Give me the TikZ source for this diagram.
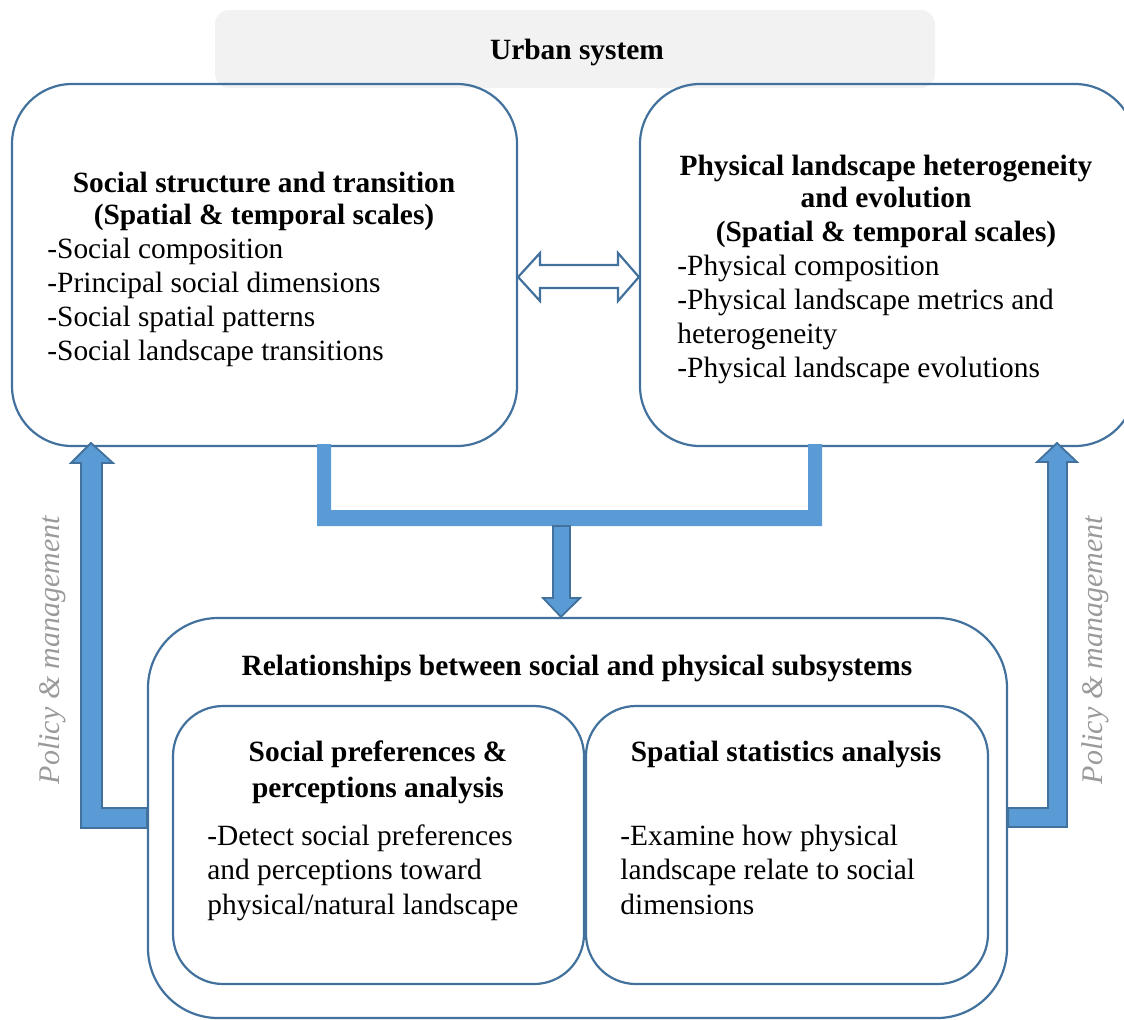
\documentclass[tikz,border=0pt]{standalone}
\usepackage{fontspec}
\setmainfont{Liberation Serif}
\begin{document}
\definecolor{edge}{HTML}{41719C}
\definecolor{flow}{HTML}{5B9BD5}
\definecolor{pale}{HTML}{F2F2F2}
\definecolor{note}{HTML}{9A9A9A}
\begin{tikzpicture}[x=0.5pt,y=-0.5pt,
  panel/.style={draw=edge, line width=1.1pt, rounded corners=#1, inner sep=0pt},
  panel/.default=30pt,
  txt/.style={inner sep=0pt, font=\fontsize{14.7}{17}\selectfont},
  head/.style={txt, anchor=base, font=\fontsize{14.7}{17}\selectfont\bfseries},
  item/.style={txt, anchor=base west},
  blockarrow/.style={fill=flow, draw=edge, line width=0.9pt, line join=miter},
  policy/.style={inner sep=0pt, rotate=90, text=note, font=\fontsize{15}{18}\selectfont\itshape}]
\useasboundingbox (0,0) rectangle (1124,1019);
\clip (0,0) rectangle (1124,1019);

% header band
\node[fill=pale, rounded corners=7pt, minimum width=360pt, minimum height=39pt, inner sep=0pt] (urban) at (575,49) {};
\node[head] (urbanT) at (577,59) {Urban system};

% the two subsystem panels
\node[panel, minimum width=252.5pt, minimum height=181pt] (social) at (264.5,265) {};
\node[panel, minimum width=247.5pt, minimum height=181pt] (physical) at (887.5,265) {};

\node[head] (s1) at (264,192) {Social structure and transition};
\node[head] (s2) at (264,224) {(Spatial \& temporal scales)};
\node[item] (s3) at (47,258) {-Social composition};
\node[item] (s4) at (47,292) {-Principal social dimensions};
\node[item] (s5) at (47,326) {-Social spatial patterns};
\node[item] (s6) at (47,360) {-Social landscape transitions};

\node[head] (p1) at (886,175) {Physical landscape heterogeneity};
\node[head] (p2) at (886,207) {and evolution};
\node[head] (p3) at (886,241) {(Spatial \& temporal scales)};
\node[item] (p4) at (677,275) {-Physical composition};
\node[item] (p5) at (677,309) {-Physical landscape metrics and};
\node[item] (p6) at (677,343) {heterogeneity};
\node[item] (p7) at (677,377) {-Physical landscape evolutions};

% two-way hollow arrow between the panels
\draw[draw=edge, line width=1.1pt, fill=white, line join=miter]
  (social.east |- 0,277) -- (540,253) -- (540,265) -- (618,265) -- (618,253)
  -- (physical.west |- 0,277) -- (618,301) -- (618,288) -- (540,288) -- (540,301) -- cycle;

% relationships panel
\node[panel=35pt, minimum width=429.5pt, minimum height=200pt] (rel) at (577.5,818) {};
\node[head] (r1) at (577,675) {Relationships between social and physical subsystems};
\node[panel=25pt, minimum width=205.5pt, minimum height=139pt] (pref) at (378.5,845) {};
\node[panel=25pt, minimum width=201pt, minimum height=139pt] (stat) at (787,845) {};

\node[head] (a1) at (378,761) {Social preferences \&};
\node[head] (a2) at (378,797) {perceptions analysis};
\node[item] (a3) at (207,845) {-Detect social preferences};
\node[item] (a4) at (207,879) {and perceptions toward};
\node[item] (a5) at (207,914) {physical/natural landscape};

\node[head] (b1) at (786,761) {Spatial statistics analysis};
\node[item] (b2) at (620,845) {-Examine how physical};
\node[item] (b3) at (620,879) {landscape relate to social};
\node[item] (b4) at (620,914) {dimensions};

% bracket joining both panels
\fill[flow] (317,444) -- (331,444) -- (331,510) -- (808,510) -- (808,444) -- (822,444)
  -- (822,526) -- (317,526) -- cycle;
% arrow down into the relationships panel
\draw[blockarrow] (553,526) -- (570,526) -- (570,598) -- (580,598) -- (rel.north -| 561,0)
  -- (543,598) -- (553,598) -- cycle;

% feedback arrows
\draw[blockarrow] (91,443) -- (113,463) -- (102,463) -- (102,808) -- (rel.west |- 0,808)
  -- (rel.west |- 0,828) -- (81,828) -- (81,463) -- (71,463) -- cycle;
\draw[blockarrow] (1057,443) -- (1077,462) -- (1067,462) -- (1067,827) -- (rel.east |- 0,827)
  -- (rel.east |- 0,808) -- (1048,808) -- (1048,462) -- (1037,462) -- cycle;

\node[policy] (polL) at (52,650) {Policy \& management};
\node[policy] (polR) at (1095,650) {Policy \& management};
\end{tikzpicture}
\end{document}
